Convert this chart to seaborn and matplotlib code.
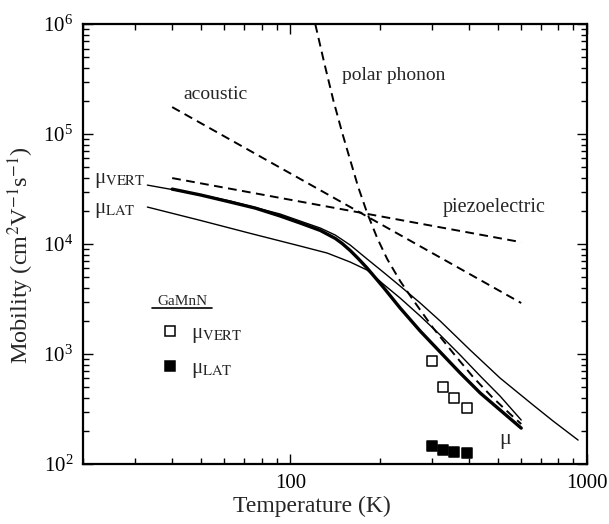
import matplotlib
matplotlib.use("Agg")
import matplotlib.pyplot as plt
import matplotlib.ticker as mticker
from matplotlib.lines import Line2D
import pandas as pd
import seaborn as sns

# ---------------- data ----------------
T_total = [40, 50, 62.8, 76.2, 92.5, 108, 126.2, 141.8, 149.7, 159.2, 169.4, 181.5,
           205.6, 234.5, 274, 320, 373.6, 436.5, 509, 600]
mu_total = [31600, 27900, 24100, 21240, 17980, 15520, 13300, 11250, 10100, 8730, 7380, 6050,
            4064, 2620, 1618, 1042, 672, 442, 310, 212]

T_vert = [33, 48.6, 62.8, 92.5, 108, 126.2, 141.8, 159.2, 181.5, 205.6, 234.5, 274,
          320, 403.6, 509, 657.7, 768, 932.7]
mu_vert = [34360, 28480, 24600, 18740, 16180, 13980, 12070, 9790, 7310, 5566, 4150, 2910,
           1995, 1088, 605, 344, 246, 165]

T_lat = [33, 50, 73.3, 108, 133.2, 159.2, 181.5, 205.6, 234.5, 274, 320, 373.6,
         436.5, 509, 600]
mu_lat = [21700, 16360, 12510, 9590, 8280, 6860, 5800, 4330, 3228, 2216, 1489, 979,
          631, 415, 251]

T_polar = [121.4, 130.2, 139.6, 149.7, 159.2, 169.4, 181.6, 196.3, 212.1, 234.5, 259.4,
           303, 353.8, 413, 478.6, 550.5, 600]
mu_polar = [1.0e6, 442000, 203700, 102100, 58020, 32970, 19140, 11340, 7310, 4610, 3097,
            1723, 1021, 618, 406, 284.8, 231]

T_acoustic = [40, 600]
mu_acoustic = [1.76e5, 2.91e3]

T_piezo = [40, 600]
mu_piezo = [3.98e4, 1.04e4]

T_meas = [300, 327, 357, 394]
mu_meas_vert = [863, 501, 398, 323]
mu_meas_lat = [146, 134, 128, 126]

x_ticks = [100, 1000]
x_tick_labels = ["100", "1000"]

# ---------------- style ----------------
sns.set_theme(style="ticks")
plt.rcParams["font.family"] = ["Liberation Serif", "DejaVu Serif"]
plt.rcParams["mathtext.fontset"] = "stix"

fig = plt.figure(figsize=(6.09, 5.24), dpi=100)
ax = fig.add_axes([0.136, 0.1145, 0.828, 0.8395])

thin = 1.0
thick = 2.4
dash_lw = 1.4
dash = (0, (4.5, 2.8))

def line(T, mu, lw, ls="-"):
    df = pd.DataFrame({"T": T, "mu": mu})
    sns.lineplot(data=df, x="T", y="mu", ax=ax, color="black", lw=lw,
                 linestyle=ls, estimator=None, sort=False, legend=False)

line(T_acoustic, mu_acoustic, dash_lw, dash)
line(T_piezo, mu_piezo, dash_lw, dash)
line(T_polar, mu_polar, dash_lw, dash)
line(T_vert, mu_vert, thin)
line(T_lat, mu_lat, thin)
line(T_total, mu_total, thick)

sns.scatterplot(x=T_meas, y=mu_meas_vert, ax=ax, marker="s", s=42,
                facecolor="white", edgecolor="black", linewidth=1.1, legend=False, zorder=5)
sns.scatterplot(x=T_meas, y=mu_meas_lat, ax=ax, marker="s", s=42,
                color="black", edgecolor="black", linewidth=1.1, legend=False, zorder=5)

ax.set_xscale("log")
ax.set_yscale("log")
ax.set_xlim(20, 1000)
ax.set_ylim(1e2, 1e6)

ax.xaxis.set_major_locator(mticker.FixedLocator(x_ticks))
ax.xaxis.set_major_formatter(mticker.FixedFormatter(x_tick_labels))
ax.xaxis.set_minor_locator(mticker.LogLocator(base=10, subs=range(2, 10)))
ax.xaxis.set_minor_formatter(mticker.NullFormatter())
ax.yaxis.set_major_locator(mticker.LogLocator(base=10, numticks=10))
ax.yaxis.set_minor_locator(mticker.LogLocator(base=10, subs=range(2, 10), numticks=20))
ax.yaxis.set_minor_formatter(mticker.NullFormatter())

ax.tick_params(which="both", direction="in", top=True, right=True,
               colors="black", labelsize=15, width=1.0)
ax.tick_params(which="major", length=7, pad=7)
ax.tick_params(which="minor", length=4)
for sp in ax.spines.values():
    sp.set_linewidth(1.6)
    sp.set_color("black")

ax.set_xlabel("Temperature (K)", fontsize=17)
ax.set_ylabel("Mobility (cm$^2$V$^{-1}$s$^{-1}$)", fontsize=17.5)
ax.xaxis.set_label_coords(0.454, -0.073)
ax.yaxis.set_label_coords(-0.093, 0.475)

# annotations
ax.text(0.264, 0.839, "acoustic", transform=ax.transAxes, fontsize=14, ha="center", va="center")
ax.text(0.617, 0.884, "polar phonon", transform=ax.transAxes, fontsize=14, ha="center", va="center")
ax.text(0.815, 0.584, "piezoelectric", transform=ax.transAxes, fontsize=14.5, ha="center", va="center")
ax.text(0.022, 0.645, "μ$_{\\rm VERT}$", transform=ax.transAxes, fontsize=15, ha="left", va="center")
ax.text(0.022, 0.577, "μ$_{\\rm LAT}$", transform=ax.transAxes, fontsize=15, ha="left", va="center")
ax.text(0.837, 0.055, "μ", transform=ax.transAxes, fontsize=16, ha="center", va="center")

# legend-like box
ax.text(0.198, 0.370, "GaMnN", transform=ax.transAxes, fontsize=11, ha="center", va="center")
ax.plot([0.137, 0.256], [0.354, 0.354], transform=ax.transAxes, color="black", lw=1.2)
handles = [
    Line2D([], [], ls="none", marker="s", ms=7, mfc="white", mec="black", mew=1.1),
    Line2D([], [], ls="none", marker="s", ms=7, mfc="black", mec="black", mew=1.1),
]
ax.legend(handles, ["μ$_{\\rm VERT}$", "μ$_{\\rm LAT}$"], loc="upper left",
          bbox_to_anchor=(0.14, 0.338), frameon=False, fontsize=15,
          handlelength=0.8, handletextpad=0.6, labelspacing=0.65, borderaxespad=0)

fig.savefig("out.png", dpi=100)
